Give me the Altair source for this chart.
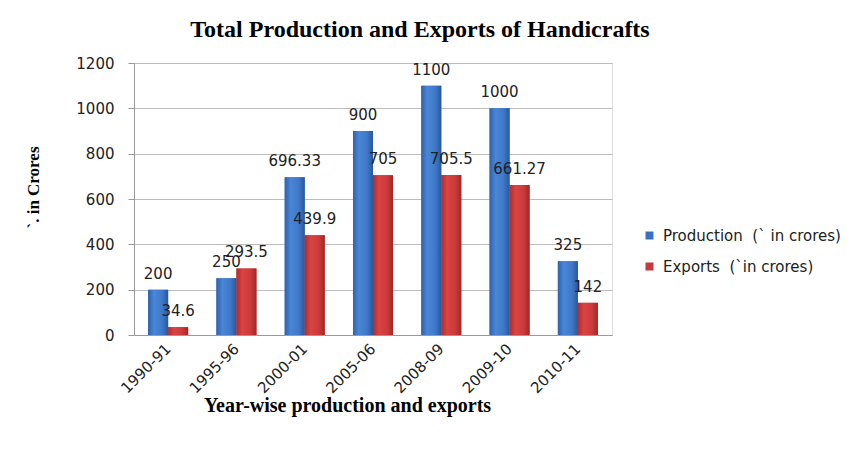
import altair as alt
import pandas as pd

years = ["1990-91", "1995-96", "2000-01", "2005-06", "2008-09", "2009-10", "2010-11"]
production = [200, 250, 696.33, 900, 1100, 1000, 325]
exports = [34.6, 293.5, 439.9, 705, 705.5, 661.27, 142]
series = ["Production\u00a0 (` in crores)", "Exports\u00a0 (`in crores)"]
y_ticks = [0, 200, 400, 600, 800, 1000, 1200]

rows = []
for i, yr in enumerate(years):
    rows.append({"year": yr, "series": series[0], "value": production[i], "label": f"{production[i]:g}"})
    rows.append({"year": yr, "series": series[1], "value": exports[i], "label": f"{exports[i]:g}"})
df = pd.DataFrame(rows)

x_enc = alt.X(
    "year:N",
    sort=years,
    scale=alt.Scale(paddingInner=0.414, paddingOuter=0.207),
    axis=alt.Axis(
        title="Year-wise production and exports",
        labelAngle=-45,
        labelAlign="right",
        labelBaseline="middle",
        labelFont="DejaVu Sans",
        labelFontSize=15,
        labelColor="#222222",
        labelPadding=11,
        ticks=False,
        domainColor="#9a9a9a",
        titleFont="Liberation Serif",
        titleFontSize=20,
        titleFontWeight="bold",
        titleColor="#000000",
        titleX=213,
        titleY=70,
        titleBaseline="middle",
        titleAlign="center",
    ),
)
y_enc = alt.Y(
    "value:Q",
    scale=alt.Scale(domain=[0, 1200]),
    axis=alt.Axis(
        values=y_ticks,
        format="d",
        title="`. in Crores",
        labelFont="DejaVu Sans",
        labelFontSize=15,
        labelColor="#222222",
        labelPadding=14,
        tickSize=6,
        tickColor="#9a9a9a",
        domainColor="#9a9a9a",
        gridColor="#bcbcbc",
        titleFont="Liberation Serif",
        titleFontSize=17,
        titleFontWeight="bold",
        titleColor="#000000",
        titleX=-101,
        titleY=124,
        titleAngle=-90,
        titleBaseline="middle",
        titleAlign="center",
    ),
)
xoff = alt.XOffset("series:N", sort=series, scale=alt.Scale(domain=series))

base = alt.Chart(df)

bars = base.mark_bar().encode(
    x=x_enc,
    y=y_enc,
    xOffset=xoff,
    color=alt.Color(
        "series:N",
        sort=series,
        scale=alt.Scale(domain=series, range=["#3a70c2", "#c53b3b"]),
        legend=alt.Legend(
            title=None,
            orient="none",
            legendX=508,
            legendY=165,
            symbolType="square",
            symbolSize=64,
            symbolStrokeWidth=0,
            labelFont="DejaVu Sans",
            labelFontSize=15,
            labelColor="#222222",
            labelOffset=6,
            labelLimit=0,
            rowPadding=15,
            padding=0,
        ),
    ),
)

blue_grad = alt.Gradient(
    gradient="linear", x1=0, x2=1, y1=0, y2=0,
    stops=[
        alt.GradientStop(color="#2f62ad", offset=0),
        alt.GradientStop(color="#4a86d6", offset=0.3),
        alt.GradientStop(color="#3f78c8", offset=0.7),
        alt.GradientStop(color="#2a579c", offset=1),
    ],
)
red_grad = alt.Gradient(
    gradient="linear", x1=0, x2=1, y1=0, y2=0,
    stops=[
        alt.GradientStop(color="#b02e2e", offset=0),
        alt.GradientStop(color="#d94343", offset=0.3),
        alt.GradientStop(color="#cc3a3a", offset=0.7),
        alt.GradientStop(color="#9e2828", offset=1),
    ],
)

prod_bars = base.transform_filter(alt.datum.series == series[0]).mark_bar(color=blue_grad).encode(
    x=alt.X("year:N", sort=years), y="value:Q", xOffset=xoff
)
exp_bars = base.transform_filter(alt.datum.series == series[1]).mark_bar(color=red_grad).encode(
    x=alt.X("year:N", sort=years), y="value:Q", xOffset=xoff
)

labels = base.mark_text(
    font="DejaVu Sans", fontSize=15, color="#222222", baseline="middle", dy=-16
).encode(
    x=alt.X("year:N", sort=years),
    y="value:Q",
    xOffset=xoff,
    text="label:N",
)

chart = (
    alt.layer(bars, prod_bars, exp_bars, labels)
    .properties(
        width=478,
        height=272,
        title=alt.TitleParams(
            "Total Production and Exports of Handicrafts",
            font="Liberation Serif",
            fontSize=24,
            fontWeight="bold",
            color="#000000",
            anchor="middle",
            dx=47,
            offset=14,
        ),
        autosize=alt.AutoSizeParams(type="none"),
        padding={"left": 126, "top": 55, "right": 230, "bottom": 100},
    )
    .configure_view(stroke=None)
    .configure(background="white")
)

chart.save("out.html", embed_options={"renderer": "svg", "actions": False})
